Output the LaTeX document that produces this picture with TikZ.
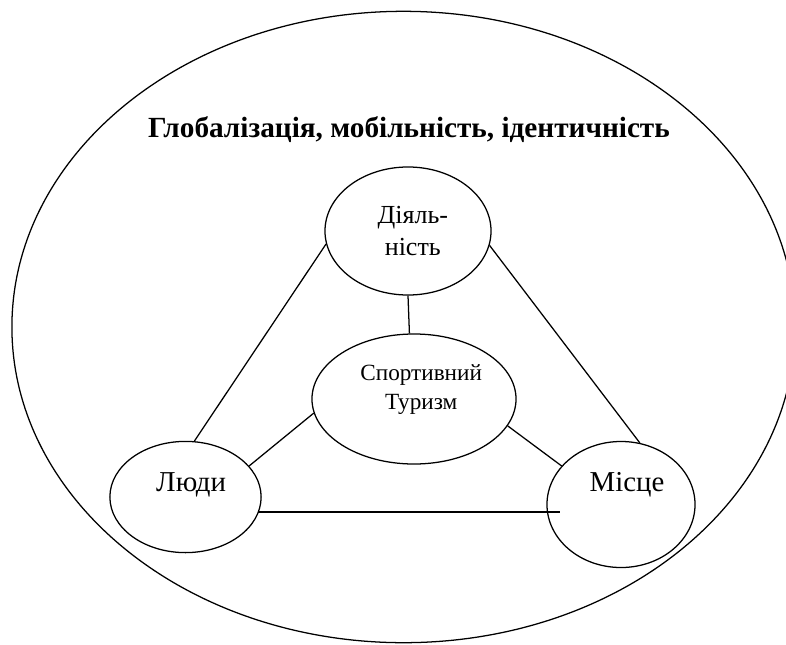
\documentclass[tikz,border=0pt]{standalone}
\usepackage{fontspec}
\setmainfont{Liberation Serif}
\usetikzlibrary{shapes.geometric}

\tikzset{
  oval/.style={ellipse, draw, line width=0.9pt, inner sep=0pt},
  lbl/.style={align=center},
  link/.style={line width=0.9pt},
}

\begin{document}
\begin{tikzpicture}[x=0.025cm,y=-0.025cm]
\clip (0,0) rectangle (786,644);
% outer ellipse
\node[oval, minimum width=19.575cm, minimum height=15.78cm] (world) at (403.5,327) {};
\node[font=\fontsize{20.8}{25}\selectfont\bfseries] (title) at (409,130) {Глобалізація, мобільність, ідентичність};

% the four ovals
\node[oval, minimum width=4.15cm, minimum height=3.2cm,
  label={[lbl, font=\fontsize{18.5}{23}\selectfont, xshift=0.12cm]center:Діяль-\\ність}] (dia) at (408,231) {};
\node[oval, minimum width=5.1cm, minimum height=3.25cm,
  label={[lbl, font=\fontsize{16.5}{21}\selectfont, xshift=0.18cm, yshift=0.24cm]center:Спортивний\\Туризм}] (sport) at (414,399) {};
\node[oval, minimum width=3.78cm, minimum height=2.78cm,
  label={[lbl, font=\fontsize{20.5}{24}\selectfont, xshift=0.14cm, yshift=0.3cm]center:Люди}] (ludy) at (185.5,497) {};
\node[oval, minimum width=3.7cm, minimum height=3.15cm,
  label={[lbl, font=\fontsize{20.5}{24}\selectfont, xshift=0.15cm, yshift=0.49cm]center:Місце}] (misce) at (621,504.5) {};

% links
\draw[link] (dia.189) -- (ludy.81);
\draw[link] (dia.350) -- (misce.73);
\draw[link] (dia.270) -- (sport.94);
\draw[link] (sport.188) -- (ludy.26);
\draw[link] (sport.344) -- (misce.147);
\coordinate (lineend) at (560,512);
\draw[line width=2pt] (ludy.349) -- (lineend -| ludy.349) -- (lineend);
\end{tikzpicture}
\end{document}
